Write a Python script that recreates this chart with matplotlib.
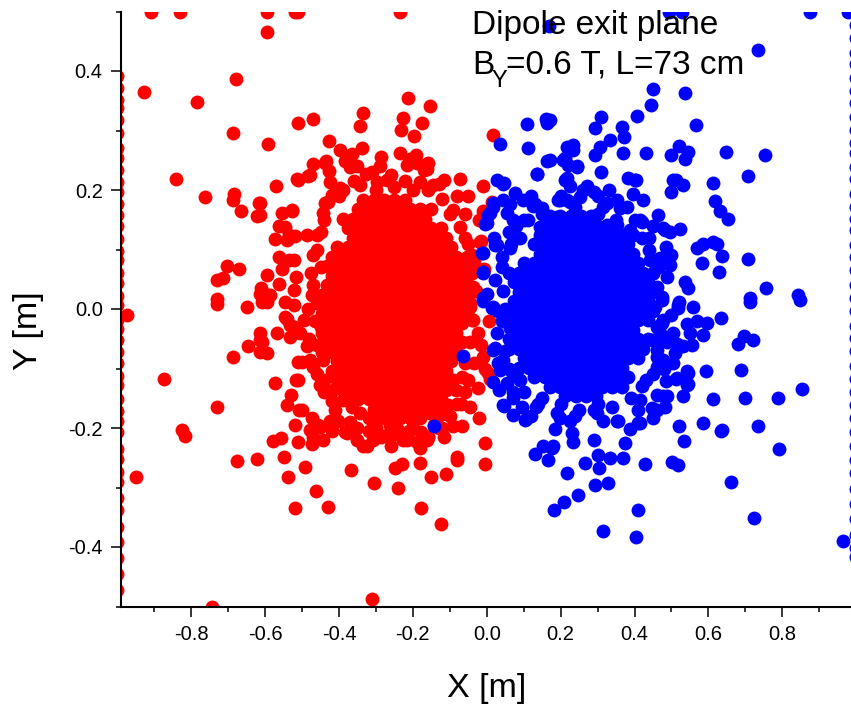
#!/usr/bin/env python3

'''
Beam spot at the dipole exit plane: red and blue particle clouds.
'''

import matplotlib
matplotlib.use('Agg')
import matplotlib.pyplot as plt
from matplotlib.ticker import FormatStrFormatter

plt.rcParams['font.family'] = ['Liberation Sans', 'DejaVu Sans']
plt.rcParams['axes.unicode_minus'] = False

# Red cloud, sparse points
red_x = [-0.91, -0.83, -0.595, -0.52, -0.51, -0.236,
         -0.595, -0.68, -0.927, -0.784, -0.512, -0.688, -0.593,
         -0.842, -0.513, -0.570, -0.763, -0.683, -0.688, -0.617,
         -0.666, -0.623, -0.555, -0.528, -0.562, -0.535, -0.572,
         -0.562, -0.535, -0.555, -0.704, -0.671, -0.596, -0.731,
         -0.713, -0.562, -0.611, -0.523, -0.731, -0.592,
         -0.975, -0.731, -0.650, -0.609, -0.596, -0.546, -0.523,
         -0.542, -0.568, -0.532, -0.532, -0.614, -0.609, -0.645,
         -0.615, -0.596, -0.686, -0.510, -0.873, -0.573, -0.510,
         -0.529, -0.542, -0.729, -0.507, -0.519, -0.824, -0.818,
         -0.579, -0.557, -0.510, -0.623, -0.677, -0.548, -0.949,
         -0.537, -0.519, -0.744,
         -0.311, -0.124, -0.177, -0.430, -0.463, -0.304, -0.239, -0.367,
         -0.248, -0.230, -0.151, -0.110, -0.181, -0.080, -0.004, -0.004,
         -0.492, -0.474, -0.444, -0.478, -0.451, -0.424, -0.402, -0.379,
         -0.352, -0.323, -0.307, -0.271, -0.239, -0.215, -0.181, -0.162,
         -0.177, -0.116, -0.090, -0.068, -0.020, -0.044, -0.025, -0.011,
         -0.005, 0.009, 0.007, 0.063,
         -0.501, -0.474, -0.515, -0.501, -0.469, -0.451, -0.415, -0.388,
         -0.365, -0.343, -0.289, -0.262, -0.190, -0.153, -0.126, -0.104,
         -0.090, -0.068, -0.059, -0.045, -0.041, -0.044,
         -0.214, -0.153, -0.469, -0.336, -0.343, -0.227, -0.232, -0.174,
         -0.196, -0.426, -0.396, -0.338, -0.375, -0.365, -0.286, -0.235,
         -0.191, -0.208, -0.158, 0.018, -0.469, -0.438, -0.426, -0.483,
         -0.510, -0.328, -0.271, -0.171, -0.117, -0.072, -0.009, 0.013,
         -0.009, -0.016, -0.007, -0.090, -0.072, -0.527, -0.546, -0.542,
         -0.523, -0.515, -0.041, -0.036, -0.424,
         -0.478, -0.434, -0.383, -0.370, -0.343, -0.298, -0.217, -0.190,
         -0.162, -0.181, -0.145, -0.397, -0.419, -0.437, -0.442, -0.613,
         -0.613, -0.519, -0.487, -0.613, -0.586, -0.546, -0.523, -0.496,
         -0.505, -0.613, -0.487, -0.478, -0.442, -0.456, -0.469, -0.383,
         -0.334, -0.226, -0.190, -0.158, -0.144, 0.004, -0.036, -0.045,
         -0.036, -0.050, -0.018, -0.081,
         -0.46, -0.45, -0.47, -0.46, -0.45, -0.46, -0.44, -0.42, -0.40,
         -0.45, -0.08, -0.06, -0.05, -0.04, -0.06, -0.08, -0.13, -0.30,
         -0.25, -0.20, -0.35, -0.30, -0.25, -0.20, -0.10,
         -0.47, -0.475, -0.465, -0.48, -0.46, -0.44, -0.43, -0.39, -0.36,
         -0.31, -0.26, -0.22, -0.16, -0.12, -0.10, -0.06, -0.035, -0.03,
         -0.025, -0.035, -0.05, -0.07, -0.12, -0.16, -0.21, -0.26, -0.32,
         -0.37, -0.41, -0.44, -0.46, -0.485, -0.42, -0.285, -0.13, -0.29,
         -0.35, -0.05, -0.02, -0.015]
red_y = [0.5, 0.5, 0.5, 0.5, 0.5, 0.5,
         0.466, 0.387, 0.365, 0.348, 0.313, 0.296, 0.277,
         0.218, 0.218, 0.207, 0.189, 0.194, 0.183, 0.178,
         0.164, 0.156, 0.161, 0.165, 0.139, 0.124, 0.118,
         0.088, 0.082, 0.067, 0.072, 0.068, 0.057, 0.049,
         0.052, 0.042, 0.036, 0.032, 0.016, 0.024,
         -0.010, 0.008, 0.003, 0.011, 0.011, 0.012, 0.007,
         -0.016, -0.040, -0.027, -0.047, -0.041, -0.055, -0.063,
         -0.072, -0.074, -0.081, -0.089, -0.118, -0.124, -0.119,
         -0.145, -0.161, -0.164, -0.170, -0.195, -0.203, -0.213,
         -0.222, -0.217, -0.223, -0.252, -0.255, -0.249, -0.283,
         -0.282, -0.335, -0.5,
         -0.487, -0.361, -0.335, -0.333, -0.306, -0.292, -0.300, -0.271,
         -0.268, -0.261, -0.282, -0.277, -0.259, -0.254, -0.261, -0.225,
         -0.265, -0.227, -0.220, -0.204, -0.198, -0.189, -0.188, -0.209,
         -0.220, -0.231, -0.220, -0.212, -0.203, -0.221, -0.234, -0.220,
         -0.206, -0.215, -0.197, -0.197, -0.184, -0.165, -0.132, -0.081,
         -0.101, -0.117, -0.021, -0.003,
         -0.169, -0.184, -0.119, -0.089, -0.097, -0.128, -0.136, -0.153,
         -0.164, -0.175, -0.184, -0.195, -0.182, -0.175, -0.178, -0.161,
         -0.119, -0.114, -0.091, -0.055, -0.018, 0.004,
         0.355, 0.341, 0.319, 0.329, 0.308, 0.321, 0.301, 0.312,
         0.290, 0.282, 0.267, 0.271, 0.252, 0.261, 0.256, 0.262,
         0.259, 0.252, 0.245, 0.292, 0.244, 0.246, 0.232, 0.224,
         0.217, 0.227, 0.217, 0.234, 0.217, 0.218, 0.206, 0.180,
         0.164, 0.115, 0.068, 0.166, 0.138, 0.166, 0.138, 0.116,
         0.082, 0.054, 0.060, 0.037, 0.214,
         0.225, 0.248, 0.248, 0.239, 0.208, 0.214, 0.242, 0.245,
         0.236, 0.214, 0.208, 0.203, 0.192, 0.178, 0.161, 0.178,
         0.158, 0.122, 0.124, 0.026, 0.024, -0.013, -0.030, -0.018,
         -0.041, -0.052, -0.063, -0.086, -0.086, -0.195, -0.215, -0.206,
         -0.231, -0.220, -0.223, -0.215, -0.195, -0.108, -0.018, 0.010,
         0.063, 0.082, 0.113, -0.248,
         0.10, 0.07, 0.04, 0.01, -0.03, -0.06, -0.12, -0.155, 0.19,
         0.13, 0.19, 0.16, 0.11, 0.09, -0.14, -0.16, -0.20, 0.20,
         0.205, 0.20, -0.20, -0.20, -0.21, -0.19, -0.18,
         0.09, 0.06, -0.02, -0.05, -0.11, 0.15, 0.18, 0.20, 0.215,
         0.23, 0.225, 0.215, 0.20, 0.185, 0.16, 0.12, 0.08, 0.03,
         -0.04, -0.09, -0.12, -0.16, -0.20, -0.215, -0.205, -0.23, -0.205,
         -0.19, -0.17, -0.14, 0.125, 0.0, -0.205, -0.215, 0.21, 0.24,
         0.24, 0.19, 0.15, -0.06]

# Red cloud, the solid core row by row
red_core_y = [0.184, 0.168, 0.152, 0.136, 0.12, 0.104, 0.088, 0.072, 0.056,
              0.04, 0.024, 0.008, -0.008, -0.024, -0.04, -0.056, -0.072,
              -0.088, -0.104, -0.12, -0.136, -0.152, -0.168, -0.184]
red_core_x = [
    [-0.334, -0.306, -0.278, -0.25, -0.222],
    [-0.348, -0.32, -0.292, -0.264, -0.236, -0.208, -0.18, -0.152],
    [-0.39, -0.362, -0.334, -0.306, -0.278, -0.25, -0.222, -0.194, -0.166],
    [-0.376, -0.348, -0.32, -0.292, -0.264, -0.236, -0.208, -0.18, -0.152,
     -0.124],
    [-0.362, -0.334, -0.306, -0.278, -0.25, -0.222, -0.194, -0.166,
     -0.138, -0.11],
    [-0.404, -0.376, -0.348, -0.32, -0.292, -0.264, -0.236, -0.208, -0.18,
     -0.152, -0.124, -0.096],
    [-0.418, -0.39, -0.362, -0.334, -0.306, -0.278, -0.25, -0.222, -0.194,
     -0.166, -0.138, -0.11, -0.082, -0.054],
    [-0.432, -0.404, -0.376, -0.348, -0.32, -0.292, -0.264, -0.236, -0.208,
     -0.18, -0.152, -0.124, -0.096, -0.068],
    [-0.418, -0.39, -0.362, -0.334, -0.306, -0.278, -0.25, -0.222,
     -0.194, -0.166, -0.138, -0.11, -0.082, -0.054],
    [-0.432, -0.404, -0.376, -0.348, -0.32, -0.292, -0.264, -0.236, -0.208,
     -0.18, -0.152, -0.124, -0.096, -0.068],
    [-0.474, -0.446, -0.418, -0.39, -0.362, -0.334, -0.306, -0.278, -0.25,
     -0.222, -0.194, -0.166, -0.138, -0.11, -0.082, -0.054],
    [-0.432, -0.404, -0.376, -0.348, -0.32, -0.292, -0.264, -0.236, -0.208,
     -0.18, -0.152, -0.124, -0.096, -0.068],
    [-0.446, -0.418, -0.39, -0.362, -0.334, -0.306, -0.278, -0.25, -0.222,
     -0.194, -0.166, -0.138, -0.11, -0.082, -0.054],
    [-0.432, -0.404, -0.376, -0.348, -0.32, -0.292, -0.264, -0.236, -0.208,
     -0.18, -0.152, -0.124, -0.096, -0.068],
    [-0.446, -0.418, -0.39, -0.362, -0.334, -0.306, -0.278, -0.25, -0.222,
     -0.194, -0.166, -0.138, -0.11, -0.082],
    [-0.432, -0.404, -0.376, -0.348, -0.32, -0.292, -0.264, -0.236, -0.208,
     -0.18, -0.152, -0.124, -0.096, -0.068],
    [-0.446, -0.418, -0.39, -0.362, -0.334, -0.306, -0.278, -0.25, -0.222,
     -0.194, -0.166, -0.138, -0.11, -0.082],
    [-0.404, -0.376, -0.348, -0.32, -0.292, -0.264, -0.236, -0.208, -0.18,
     -0.152, -0.124, -0.096],
    [-0.418, -0.39, -0.362, -0.334, -0.306, -0.278, -0.25, -0.222, -0.194,
     -0.166, -0.138, -0.11],
    [-0.404, -0.376, -0.348, -0.32, -0.292, -0.264, -0.236, -0.208, -0.18,
     -0.152, -0.124, -0.096],
    [-0.39, -0.362, -0.334, -0.306, -0.278, -0.25, -0.222, -0.194, -0.166,
     -0.138, -0.11, -0.082],
    [-0.376, -0.348, -0.32, -0.292, -0.264, -0.236, -0.208, -0.18, -0.152,
     -0.124],
    [-0.306, -0.278, -0.25, -0.222, -0.194, -0.166, -0.138],
    [-0.32, -0.292, -0.264, -0.236, -0.208, -0.18],
]

# Red particles stopped on the left wall (x = -1)
red_wall_y = [0.392, 0.371, 0.352, 0.337, 0.318, 0.296, 0.271, 0.254, 0.233,
              0.214, 0.197, 0.176, 0.158, 0.139, 0.117, 0.098, 0.082, 0.061,
              0.043, 0.022, 0.006, -0.018, -0.034, -0.052, -0.073, -0.091,
              -0.112, -0.128, -0.151, -0.172, -0.188, -0.207, -0.236, -0.252,
              -0.274, -0.291, -0.318, -0.337, -0.366, -0.392, -0.418, -0.446,
              -0.473]

# Blue cloud, sparse points
blue_x = [0.492, 0.528, 0.875, 0.979, 0.169, 0.735, 0.451, 0.537, 0.444,
          0.406, 0.308, 0.566, 0.293, 0.365, 0.372, 0.334, 0.171, 0.234,
          0.221, 0.307, 0.293, 0.370, 0.431, 0.521, 0.546, 0.498, 0.537,
          0.647, 0.753, 0.172, 0.212, 0.245, 0.308, 0.383, 0.404, 0.512,
          0.530, 0.498, 0.613, 0.706, 0.216, 0.225, 0.270, 0.289, 0.198,
          0.397, 0.424, 0.352, 0.618, 0.239, 0.316, 0.631, 0.654, 0.463,
          0.379, 0.415, 0.388, 0.483, 0.523, 0.198, 0.568, 0.613, 0.582,
          0.636, 0.629, 0.706, 0.485, 0.469, 0.496, 0.537, 0.546, 0.458,
          0.756, 0.843, 0.713, 0.424, 0.442,
          0.110, 0.160, 0.162, 0.036, 0.113, 0.164, 0.135, 0.027, 0.047,
          0.077, 0.099, 0.131, 0.063, 0.018, 0.009, 0.0, 0.054, 0.072,
          0.113, 0.027, -0.009, -0.009, 0.0, 0.063, 0.217, 0.234, 0.207,
          0.212, 0.194, 0.217, 0.189, 0.144,
          0.713, 0.847, 0.557, 0.519, 0.634, 0.595, 0.568, 0.541, 0.586,
          0.550, 0.503, 0.474, 0.697, 0.722, 0.681, 0.555, 0.523, 0.487,
          0.460, 0.505, 0.460, 0.541, 0.593, 0.687, 0.853, 0.512, 0.485,
          0.546, 0.530, 0.613, 0.699, 0.788, 0.487, 0.462, 0.483, 0.447,
          0.415, 0.451, 0.410, 0.388, 0.356, 0.521, 0.586, 0.634, 0.733,
          0.535, 0.791, 0.374, 0.289, 0.302, 0.334, 0.370, 0.266, 0.305,
          0.427, 0.501, 0.517, 0.218, 0.293, 0.327, 0.661, 0.409, 0.723,
          0.316, 0.404, 0.963, 0.180,
          -0.065, -0.144, 0.182, 0.209, 0.248, 0.131, 0.153, 0.176, 0.165,
          0.230, 0.234, 0.185, 0.198, 0.225, 0.106, 0.072, 0.048, 0.132,
          0.095, 0.032, 0.072, 0.018, 0.036, 0.022, 0.027, 0.063, 0.013,
          -0.009,
          0.221, 0.244, 0.137, 0.401, 0.045, 0.270, 0.505, 0.045, 0.018,
          0.004, -0.005, 0.126, 0.225, 0.253, 0.325, 0.419, 0.478, 0.496,
          0.586, 0.622, 0.487, 0.521, 0.519, 0.514, 0.532, 0.469, 0.478,
          0.460, 0.474, 0.455, 0.447, 0.460, 0.478, 0.509, 0.546, 0.541,
          0.514, 0.636, 0.104, 0.045, 0.054, 0.298, 0.316, 0.352, 0.415,
          0.460, 0.478, -0.009, 0.018, 0.022, -0.009, -0.014, 0.022, 0.040,
          0.018, 0.045,
          0.06, 0.09, 0.06, 0.09, 0.42, 0.44, 0.45, 0.42, 0.15, 0.30, 0.35,
          0.15, 0.20, 0.30, 0.25, 0.06, 0.05, 0.06, 0.45, 0.46,
          0.04, 0.045, 0.04, 0.05, 0.07, 0.10, 0.14, 0.19, 0.24, 0.29, 0.34,
          0.39, 0.43, 0.46, 0.47, 0.475, 0.465, 0.44, 0.40, 0.36, 0.30,
          0.26, 0.20, 0.15, 0.10, 0.065, 0.08, 0.12, 0.33, 0.45, 0.50,
          0.50, 0.48, 0.41, 0.12, 0.07, 0.03, 0.02]
blue_y = [0.5, 0.5, 0.5, 0.5, 0.476, 0.436, 0.369, 0.363, 0.343,
          0.324, 0.323, 0.309, 0.304, 0.306, 0.289, 0.284, 0.318, 0.276,
          0.270, 0.273, 0.259, 0.263, 0.263, 0.274, 0.264, 0.259, 0.252,
          0.264, 0.259, 0.250, 0.253, 0.240, 0.230, 0.221, 0.217, 0.217,
          0.208, 0.197, 0.211, 0.224, 0.220, 0.206, 0.206, 0.197, 0.183,
          0.194, 0.183, 0.183, 0.182, 0.172, 0.172, 0.164, 0.152, 0.158,
          0.172, 0.150, 0.133, 0.133, 0.134, 0.144, 0.102, 0.113, 0.077,
          0.089, 0.063, 0.084, 0.105, 0.085, 0.074, 0.046, 0.035, 0.033,
          0.035, 0.024, 0.018, 0.054, 0.082,
          0.311, 0.320, 0.312, 0.278, 0.271, 0.249, 0.227, 0.217, 0.211,
          0.195, 0.183, 0.176, 0.176, 0.178, 0.161, 0.144, 0.161, 0.150,
          0.150, 0.108, 0.094, 0.063, 0.026, 0.102, 0.273, 0.267, 0.250,
          0.217, 0.183, 0.183, 0.155, 0.138,
          0.012, 0.015, 0.004, 0.007, -0.015, -0.023, -0.021, -0.025, -0.044,
          -0.041, -0.041, -0.024, -0.045, -0.052, -0.058, -0.061, -0.062,
          -0.055, -0.055, -0.091, -0.097, -0.105, -0.104, -0.103, -0.135,
          -0.118, -0.121, -0.126, -0.147, -0.151, -0.149, -0.149, -0.147,
          -0.145, -0.164, -0.167, -0.153, -0.184, -0.191, -0.201, -0.189,
          -0.197, -0.191, -0.205, -0.197, -0.222, -0.236, -0.225, -0.220,
          -0.245, -0.251, -0.251, -0.258, -0.268, -0.261, -0.257, -0.263,
          -0.275, -0.295, -0.292, -0.290, -0.337, -0.352, -0.373, -0.383,
          -0.390, -0.231,
          -0.079, -0.196, -0.338, -0.324, -0.313, -0.243, -0.231, -0.234,
          -0.254, -0.209, -0.223, -0.201, -0.184, -0.189, -0.185, -0.178,
          -0.163, -0.165, -0.165, -0.136, -0.139, -0.122, -0.103, -0.066,
          -0.041, -0.032, 0.001, 0.013,
          0.242, 0.239, 0.227, 0.216, 0.210, 0.203, 0.217, 0.183, 0.172,
          0.158, 0.143, 0.173, 0.180, 0.189, 0.178, 0.147, 0.136, 0.130,
          0.110, 0.110, 0.054, 0.012, 0.001, -0.058, -0.063, -0.027, -0.018,
          0.037, 0.015, 0.004, -0.052, -0.069, -0.086, -0.074, -0.108,
          -0.128, -0.116, -0.203, -0.187, -0.161, -0.125, -0.175, -0.189,
          -0.189, -0.192, -0.170, -0.147, 0.018, 0.004, 0.049, 0.060, 0.094,
          0.108, 0.088, -0.069, -0.086,
          0.13, 0.12, -0.10, -0.12, 0.12, 0.10, -0.11, -0.13, 0.16, 0.16,
          0.15, -0.15, -0.16, -0.16, -0.17, 0.06, 0.0, -0.05, 0.06, -0.03,
          0.07, 0.03, -0.02, -0.07, -0.11, -0.14, -0.16, -0.175, -0.18,
          -0.17, -0.165, -0.15, -0.12, -0.08, -0.04, 0.02, 0.07, 0.12, 0.15,
          0.17, 0.19, 0.20, 0.19, 0.17, 0.15, 0.11, 0.14, 0.19, 0.20, 0.14,
          0.09, -0.01, -0.10, -0.17, -0.18, -0.15, -0.09, 0.12]

# Blue cloud, the solid core row by row
blue_core_y = [0.157, 0.141, 0.125, 0.109, 0.093, 0.077, 0.061, 0.045,
               0.029, 0.013, -0.003, -0.019, -0.035, -0.051, -0.067, -0.083,
               -0.099, -0.115, -0.131, -0.147]
blue_core_x = [
    [0.171, 0.199, 0.227, 0.255, 0.283],
    [0.157, 0.185, 0.213, 0.241, 0.269, 0.297, 0.325, 0.353],
    [0.143, 0.171, 0.199, 0.227, 0.255, 0.283, 0.311, 0.339, 0.367, 0.395],
    [0.129, 0.157, 0.185, 0.213, 0.241, 0.269, 0.297, 0.325, 0.353, 0.381],
    [0.143, 0.171, 0.199, 0.227, 0.255, 0.283, 0.311, 0.339, 0.367,
     0.395],
    [0.101, 0.129, 0.157, 0.185, 0.213, 0.241, 0.269, 0.297, 0.325, 0.353,
     0.381, 0.409],
    [0.087, 0.115, 0.143, 0.171, 0.199, 0.227, 0.255, 0.283, 0.311, 0.339,
     0.367, 0.395, 0.423, 0.451],
    [0.073, 0.101, 0.129, 0.157, 0.185, 0.213, 0.241, 0.269, 0.297, 0.325,
     0.353, 0.381, 0.409, 0.437],
    [0.087, 0.115, 0.143, 0.171, 0.199, 0.227, 0.255, 0.283, 0.311,
     0.339, 0.367, 0.395, 0.423, 0.451],
    [0.073, 0.101, 0.129, 0.157, 0.185, 0.213, 0.241, 0.269, 0.297, 0.325,
     0.353, 0.381, 0.409, 0.437],
    [0.031, 0.059, 0.087, 0.115, 0.143, 0.171, 0.199, 0.227, 0.255, 0.283,
     0.311, 0.339, 0.367, 0.395, 0.423, 0.451],
    [0.073, 0.101, 0.129, 0.157, 0.185, 0.213, 0.241, 0.269, 0.297, 0.325,
     0.353, 0.381, 0.409, 0.437],
    [0.087, 0.115, 0.143, 0.171, 0.199, 0.227, 0.255, 0.283, 0.311, 0.339,
     0.367, 0.395],
    [0.073, 0.101, 0.129, 0.157, 0.185, 0.213, 0.241, 0.269, 0.297, 0.325,
     0.353, 0.381, 0.409, 0.437],
    [0.059, 0.087, 0.115, 0.143, 0.171, 0.199, 0.227, 0.255, 0.283, 0.311,
     0.339, 0.367, 0.395, 0.423],
    [0.101, 0.129, 0.157, 0.185, 0.213, 0.241, 0.269, 0.297, 0.325, 0.353,
     0.381, 0.409],
    [0.087, 0.115, 0.143, 0.171, 0.199, 0.227, 0.255, 0.283, 0.311, 0.339,
     0.367],
    [0.129, 0.157, 0.185, 0.213, 0.241, 0.269, 0.297, 0.325, 0.353, 0.381],
    [0.171, 0.199, 0.227, 0.255, 0.283, 0.311, 0.339, 0.367],
    [0.213, 0.241, 0.269, 0.297],
]

# Blue particles stopped on the right wall (x = +1)
blue_wall_y = [0.497, 0.478, 0.456, 0.431, 0.412, 0.389, 0.366, 0.347, 0.322,
               0.301, 0.279, 0.262, 0.238, 0.219, 0.194, 0.172, 0.151, 0.133,
               0.108, 0.087, 0.066, 0.041, 0.019, -0.004, -0.028, -0.049,
               -0.071, -0.096, -0.117, -0.139, -0.162, -0.183, -0.207, -0.231,
               -0.254, -0.276, -0.302, -0.328, -0.353, -0.379, -0.402, -0.417]

x_major = [-0.8, -0.6, -0.4, -0.2, 0.0, 0.2, 0.4, 0.6, 0.8]
x_minor = [-0.9, -0.7, -0.5, -0.3, -0.1, 0.1, 0.3, 0.5, 0.7, 0.9]
y_major = [-0.4, -0.2, 0.0, 0.2, 0.4]
y_minor = [-0.5, -0.3, -0.1, 0.1, 0.3, 0.5]


def collect(xs, ys, core_x, core_y, wall_x, wall_y):
    '''Put the loose points, the core rows and the wall hits in two lists.'''
    all_x = list(xs)
    all_y = list(ys)
    for row_y, row in zip(core_y, core_x):
        all_x += row
        all_y += [row_y] * len(row)
    all_x += [wall_x] * len(wall_y)
    all_y += wall_y
    return all_x, all_y


rx, ry = collect(red_x, red_y, red_core_x, red_core_y, -1.0, red_wall_y)
bx, by = collect(blue_x, blue_y, blue_core_x, blue_core_y, 1.0, blue_wall_y)

W, H = 851, 707
fig = plt.figure(figsize=(W / 100, H / 100), dpi=100)
# The right edge of the frame runs just past the picture, as in the original
ax = fig.add_axes([121 / W, 100.5 / H, 731.5 / W, 595 / H])

ax.scatter(rx, ry, s=100, c='#ff0000', linewidths=0, zorder=2)
ax.scatter(bx, by, s=100, c='#0000ff', linewidths=0, zorder=2)

ax.set_xlim(-0.99, 0.99)
ax.set_ylim(-0.5, 0.5)

for side in ('top', 'right'):
    ax.spines[side].set_visible(False)
for side in ('left', 'bottom'):
    ax.spines[side].set_linewidth(1.5)

ax.set_xticks(x_major)
ax.set_xticks(x_minor, minor=True)
ax.set_yticks(y_major)
ax.set_yticks(y_minor, minor=True)
ax.xaxis.set_major_formatter(FormatStrFormatter('%.1f'))
ax.yaxis.set_major_formatter(FormatStrFormatter('%.1f'))
ax.tick_params(which='major', direction='out', length=7.2, width=1.1,
               labelsize=14.5, pad=6)
ax.tick_params(which='minor', direction='out', length=3.6, width=1.1)

fig.text(487 / W, 10 / H, 'X [m]', ha='center', va='baseline', fontsize=24.5)
fig.text(37 / W, 1 - 331 / H, 'Y [m]', rotation=90, rotation_mode='anchor',
         ha='center', va='baseline', fontsize=24.5)

# Title lines; the subscript Y is set by hand, lower than mathtext puts it
fig.text(472 / W, 1 - 34 / H, 'Dipole exit plane', va='baseline',
         fontsize=24)
fig.text(472 / W, 1 - 74 / H, 'B', va='baseline', fontsize=24)
fig.text(492 / W, 1 - 87 / H, 'Y', va='baseline', fontsize=17)
fig.text(506 / W, 1 - 74 / H, '=0.6 T, L=73 cm', va='baseline', fontsize=24)

fig.savefig('out.png', dpi=100)
